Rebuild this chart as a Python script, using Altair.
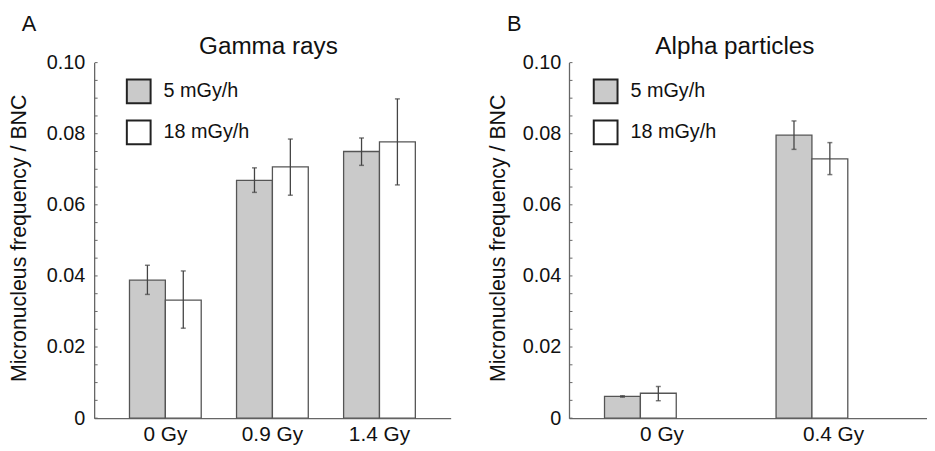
import altair as alt
import pandas as pd

FONT = "Liberation Sans"

rates = ["5 mGy/h", "18 mGy/h"]
fills = ["#cacaca", "#ffffff"]

gamma_doses = ["0 Gy", "0.9 Gy", "1.4 Gy"]
gamma_5 = [0.0388, 0.0669, 0.0750]
gamma_5_lo = [0.0348, 0.0635, 0.0711]
gamma_5_hi = [0.0430, 0.0704, 0.0788]
gamma_18 = [0.0332, 0.0707, 0.0777]
gamma_18_lo = [0.0253, 0.0627, 0.0656]
gamma_18_hi = [0.0414, 0.0785, 0.0898]

alpha_doses = ["0 Gy", "0.4 Gy"]
alpha_5 = [0.0061, 0.0796]
alpha_5_lo = [0.0059, 0.0756]
alpha_5_hi = [0.0063, 0.0836]
alpha_18 = [0.0070, 0.0729]
alpha_18_lo = [0.0049, 0.0685]
alpha_18_hi = [0.0089, 0.0775]

y_labels = [0, 0.02, 0.04, 0.06, 0.08, 0.10]
minor_ticks = [0, 0.005, 0.01, 0.015, 0.02, 0.025, 0.03, 0.035, 0.04, 0.045, 0.05,
               0.055, 0.06, 0.065, 0.07, 0.075, 0.08, 0.085, 0.09, 0.095, 0.10]


def make_df(doses, v5, lo5, hi5, v18, lo18, hi18):
    rows = []
    for i, d in enumerate(doses):
        rows.append({"dose": d, "rate": rates[0], "value": v5[i], "lo": lo5[i], "hi": hi5[i]})
        rows.append({"dose": d, "rate": rates[1], "value": v18[i], "lo": lo18[i], "hi": hi18[i]})
    return pd.DataFrame(rows)


gamma_df = make_df(gamma_doses, gamma_5, gamma_5_lo, gamma_5_hi, gamma_18, gamma_18_lo, gamma_18_hi)
alpha_df = make_df(alpha_doses, alpha_5, alpha_5_lo, alpha_5_hi, alpha_18, alpha_18_lo, alpha_18_hi)
ticks_df = pd.DataFrame({"t": minor_ticks})

YTITLE = "Micronucleus frequency / BNC"


def panel(df, doses, title, letter, pad_outer, width, title_x, label_pad, legend_x, title_pos, letter_x):
    yscale = alt.Scale(domain=[0, 0.1], nice=False, zero=True)
    xscale = alt.Scale(domain=doses, paddingInner=0.33, paddingOuter=pad_outer)
    xo = alt.XOffset("rate:N", sort=rates, scale=alt.Scale(domain=rates, paddingInner=0, paddingOuter=0))
    x_axis = alt.Axis(title=None, labelAngle=0, ticks=False, tickSize=0, labelPadding=6,
                      labelFontSize=21, labelFont=FONT, labelColor="#111",
                      domainColor="#666", domainWidth=1.3, grid=False)
    y_axis = alt.Axis(values=y_labels,
                      labelExpr="datum.value == 0 ? '0' : format(datum.value, '.2f')",
                      ticks=False, tickSize=0, grid=False, labelPadding=label_pad,
                      labelFontSize=20, labelFont=FONT, labelColor="#111", labelFlush=False,
                      domainColor="#666", domainWidth=1.3,
                      title=YTITLE, titleFont=FONT,
                      titleFontSize=21.5, titleFontWeight="normal", titleColor="#111",
                      titleAngle=270, titleAlign="center", titleBaseline="alphabetic",
                      titleX=title_x, titleY=177)
    X = alt.X("dose:N", sort=doses, scale=xscale, axis=x_axis, title=None)
    bars = alt.Chart(df).mark_bar(stroke="#555", strokeWidth=1.3).encode(
        x=X,
        xOffset=xo,
        y=alt.Y("value:Q", scale=yscale, axis=y_axis, title=YTITLE),
        color=alt.Color("rate:N", sort=rates,
                        scale=alt.Scale(domain=rates, range=fills),
                        legend=alt.Legend(title=None, orient="none", legendX=legend_x, legendY=16,
                                          symbolType="square", symbolSize=576,
                                          symbolStrokeColor="#222", symbolStrokeWidth=2,
                                          labelFontSize=20, labelFont=FONT, labelColor="#111",
                                          labelOffset=12, rowPadding=9.5, padding=0)),
    )
    rules = alt.Chart(df).mark_rule(color="#444", strokeWidth=1.3).encode(
        x=X,
        xOffset=xo,
        y=alt.Y("lo:Q", scale=yscale, axis=y_axis, title=YTITLE),
        y2="hi:Q",
    )
    cap_lo = alt.Chart(df).mark_tick(color="#444", size=5, thickness=1.5).encode(
        x=X,
        xOffset=xo,
        y=alt.Y("lo:Q", scale=yscale, axis=y_axis, title=YTITLE),
    )
    cap_hi = alt.Chart(df).mark_tick(color="#444", size=5, thickness=1.5).encode(
        x=X,
        xOffset=xo,
        y=alt.Y("hi:Q", scale=yscale, axis=y_axis, title=YTITLE),
    )
    inward = alt.Chart(ticks_df).mark_rule(color="#666", strokeWidth=1).encode(
        y=alt.Y("t:Q", scale=yscale, axis=y_axis, title=YTITLE),
        x=alt.value(0.5),
        x2=alt.value(3.5),
    )
    letter_mark = alt.Chart(pd.DataFrame({"letter": [letter]})).mark_text(
        font=FONT, fontSize=22, align="left", baseline="alphabetic", color="#111"
    ).encode(text="letter:N", x=alt.value(letter_x), y=alt.value(-32.3))
    title_mark = alt.Chart(pd.DataFrame({"title": [title]})).mark_text(
        font=FONT, fontSize=24.5, align="center", baseline="alphabetic", color="#111"
    ).encode(text="title:N", x=alt.value(title_pos), y=alt.value(-8.3))
    return alt.layer(bars, rules, cap_lo, cap_hi, inward, letter_mark, title_mark).properties(
        width=width, height=359,
    )


left = panel(gamma_df, gamma_doses, "Gamma rays", "A", 0.33, 360, -69.7, 9.5, 32, 176, -73)
right = panel(alpha_df, alpha_doses, "Alpha particles", "B", 0.207, 361, -65.3, 8.3, 24, 167.5, -62.5)

chart = alt.hconcat(left, right, spacing=36.5).resolve_scale(
    color="independent", x="independent", y="independent"
).resolve_legend(color="independent").properties(
    padding={"left": 0, "top": 2, "right": 0, "bottom": 0},
    background="white",
).configure_view(strokeOpacity=0, stroke="transparent")

chart.save("out.html", embed_options={"renderer": "svg", "actions": False})
